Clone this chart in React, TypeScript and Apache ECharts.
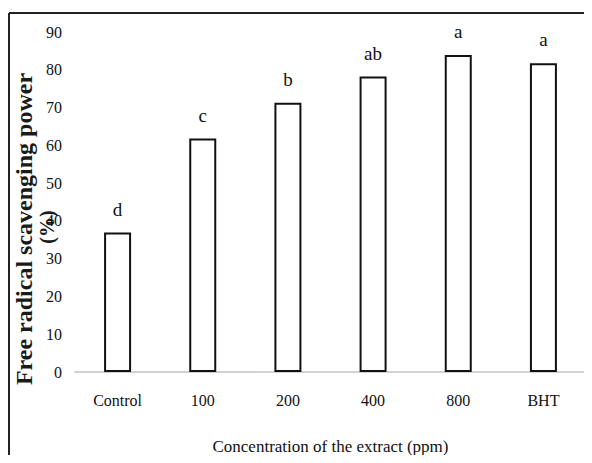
import React, { useEffect, useRef } from "react";
import * as echarts from "echarts";

const categories = ["Control", "100", "200", "400", "800", "BHT"];
const values = [36.9, 61.8, 71.3, 78.2, 83.9, 81.7];
const letters = ["d", "c", "b", "ab", "a", "a"];
const yTicks = { min: 0, max: 90, interval: 10 };

const FONT = "'Liberation Serif', 'Times New Roman', serif";

export default function App() {
  const ref = useRef<HTMLDivElement>(null);
  useEffect(() => {
    if (!ref.current) return;
    const chart = echarts.init(ref.current, undefined, { renderer: "svg" });
    chart.setOption({
      animation: false,
      backgroundColor: "#ffffff",
      grid: { left: 75, right: 6, top: 32, bottom: 91, containLabel: false },
      xAxis: {
        type: "category",
        data: categories,
        axisLine: { show: true, lineStyle: { color: "#c4c4c4", width: 1.5 } },
        axisTick: { show: false },
        axisLabel: { color: "#111", fontFamily: FONT, fontSize: 16, margin: 20 },
        name: "Concentration of the extract (ppm)",
        nameLocation: "middle",
        nameGap: 66,
        nameTextStyle: { color: "#111", fontFamily: FONT, fontSize: 17 },
      },
      yAxis: {
        type: "value",
        min: yTicks.min,
        max: yTicks.max,
        interval: yTicks.interval,
        axisLine: { show: false },
        axisTick: { show: false },
        splitLine: { show: false },
        axisLabel: { color: "#111", fontFamily: FONT, fontSize: 16, margin: 13 },
      },
      series: [
        {
          type: "bar",
          data: values,
          barWidth: 27,
          itemStyle: { color: "#ffffff", borderColor: "#111", borderWidth: 2 },
          label: {
            show: true,
            position: "top",
            distance: 14,
            color: "#111",
            fontFamily: FONT,
            fontSize: 19,
            formatter: (p: any) => letters[p.dataIndex],
          },
        },
      ],
      graphic: [
        {
          type: "line",
          shape: { x1: 9, y1: 13, x2: 592, y2: 13 },
          style: { stroke: "#222", lineWidth: 2 },
        },
        {
          type: "line",
          shape: { x1: 9, y1: 13, x2: 9, y2: 463 },
          style: { stroke: "#222", lineWidth: 2 },
        },
        {
          type: "text",
          x: 24,
          y: 229,
          rotation: Math.PI / 2,
          style: {
            text: "Free radical scavenging power",
            font: `bold 24px ${FONT}`,
            fill: "#1a1a1a",
            align: "center",
            verticalAlign: "middle",
          },
        },
        {
          type: "text",
          x: 47,
          y: 227,
          rotation: Math.PI / 2,
          style: {
            text: "(%)",
            font: `bold 20px ${FONT}`,
            fill: "#1a1a1a",
            align: "center",
            verticalAlign: "middle",
          },
        },
      ],
    });
    return () => chart.dispose();
  }, []);
  return <div ref={ref} style={{ width: 592, height: 463, margin: -8 }} />;
}
